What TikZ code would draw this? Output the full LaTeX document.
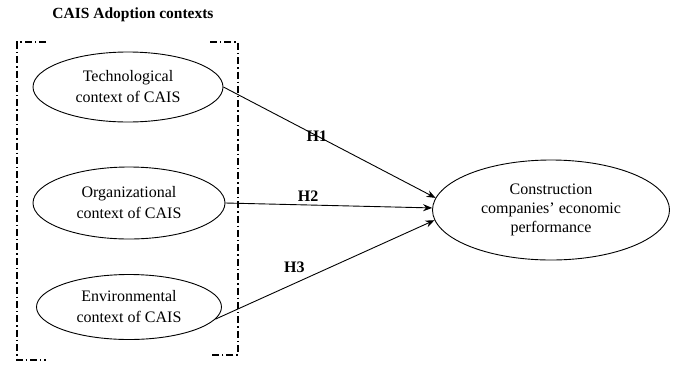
\documentclass[tikz,border=0pt]{standalone}
\usepackage{fontspec}
\setmainfont{Liberation Serif}
\usepackage{tikz}
\usetikzlibrary{arrows.meta, positioning, shapes.geometric}

\begin{document}
\begin{tikzpicture}[x=1pt, y=-1pt, >={Stealth[length=9pt, width=7pt]}, line width=0.9pt,
    ctx/.style={draw, ellipse, inner sep=0pt, minimum width=190pt, minimum height=70pt,
      align=center, font=\fontsize{16}{21}\selectfont},
    hyp/.style={font=\bfseries\fontsize{16}{18}\selectfont},
    frame/.style={line width=1.4pt, dash pattern=on 7pt off 3pt on 1.4pt off 3pt}]
  \useasboundingbox (0,0) rectangle (677,365);

  % Kontexty adopce
  \node[font=\bfseries\fontsize{15.5}{18}\selectfont] (title) at (133,15) {CAIS Adoption contexts};
  \node[ctx] (tech) at (128,87) {Technological\\context of CAIS};
  \node[ctx, minimum width=192pt, minimum height=72pt] (org) at (129,203) {Organizational\\context of CAIS};
  \node[ctx, minimum width=185pt, minimum height=65pt] (env) at (129,307) {Environmental\\context of CAIS};

  % Ohraniceni skupiny
  \draw[frame] (46,42) -- (17,42) -- (17,360) -- (46,360);
  \draw[frame] (210,42) -- (238,42) -- (238,355) -- (210,355);

  % Vysledna promenna
  \node[ctx, minimum width=237pt, minimum height=100pt, font=\fontsize{16}{19}\selectfont]
    (perf) at (551,210) {Construction\\companies’ economic\\performance};

  % Hypotezy
  \draw[->] (tech.east) -- (perf.174) node[hyp, pos=0.44] (h1) {H1};
  \draw[->] (org.east) -- (perf.179) node[hyp, pos=0.4, above] (h2) {H2};
  \draw[->] (env.-8) -- (perf.185) node[hyp, pos=0.36, yshift=16pt] (h3) {H3};
\end{tikzpicture}
\end{document}
